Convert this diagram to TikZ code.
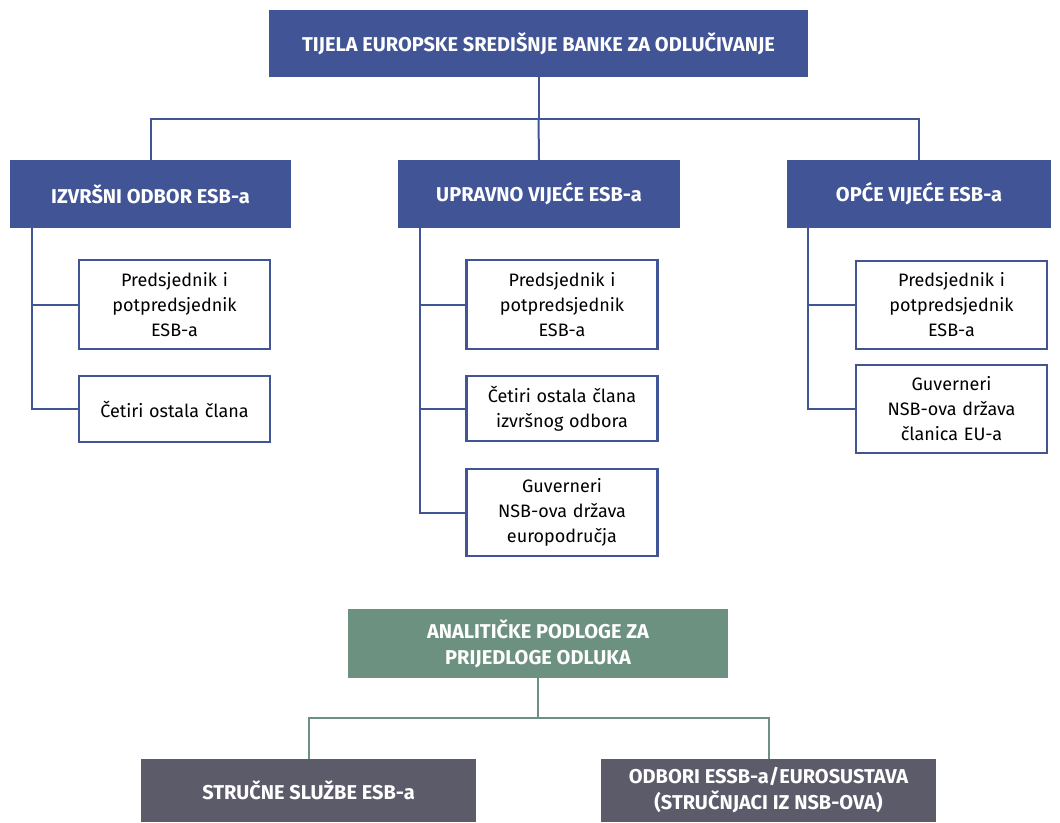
\documentclass[tikz,border=0pt]{standalone}
\usepackage{fontspec}
\setmainfont{Fira Sans}[WordSpace=1.2]
\newfontfamily\headfont{Fira Sans}
\usetikzlibrary{positioning}

\definecolor{ecbblue}{RGB}{65,84,150}
\definecolor{ecbgreen}{RGB}{108,145,128}
\definecolor{ecbgrey}{RGB}{92,91,106}

\tikzset{
    headbox/.style={fill=ecbblue, text=white, inner sep=0pt, align=center,
        font=\headfont\bfseries\fontsize{20}{26}\selectfont, minimum height=68pt},
    member/.style={draw=ecbblue, line width=2.4pt, fill=white, inner sep=0pt, align=center,
        font=\fontsize{18}{25}\selectfont, minimum width=191pt},
    link/.style={draw=ecbblue, line width=2pt},
    greenlink/.style={draw=ecbgreen, line width=2pt},
}

\begin{document}
\begin{tikzpicture}[x=1pt, y=-1pt]
    \useasboundingbox (0,0) rectangle (1060,822);

    % decision-making bodies
    \node [headbox, minimum width=539pt, minimum height=67pt] (ecb) at (538.5,43.5)
        {TIJELA EUROPSKE SREDIŠNJE BANKE ZA ODLUČIVANJE};

    \node [headbox, minimum width=281pt] (izv) at (150.5,194) {IZVRŠNI ODBOR ESB-a};
    \node [headbox, minimum width=282pt] (upr) at (539,194) {UPRAVNO VIJEĆE ESB-a};
    \node [headbox, minimum width=264pt] (opc) at (919,194) {OPĆE VIJEĆE ESB-a};

    % members
    \node [member, minimum height=89pt] (izv1) at (174.5,304.5) {Predsjednik i\\potpredsjednik\\ESB-a};
    \node [member, minimum height=66pt] (izv2) at (174.5,409) {Četiri ostala člana};

    \node [member, minimum height=89pt] (upr1) at (562,304.5) {Predsjednik i\\potpredsjednik\\ESB-a};
    \node [member, minimum height=65pt] (upr2) at (562,408.5) {Četiri ostala člana\\izvršnog odbora};
    \node [member, minimum height=87pt] (upr3) at (562,512.5) {Guverneri\\NSB-ova država\\europodručja};

    \node [member, minimum height=88pt] (opc1) at (951.5,305) {Predsjednik i\\potpredsjednik\\ESB-a};
    \node [member, minimum height=88pt] (opc2) at (951.5,409) {Guverneri\\NSB-ova država\\članica EU-a};

    % analytical support
    \node [headbox, fill=ecbgreen, minimum width=380pt, minimum height=69pt] (ana) at (538,643.5)
        {ANALITIČKE PODLOGE ZA\\PRIJEDLOGE ODLUKA};
    \node [headbox, fill=ecbgrey, minimum width=335pt, minimum height=63pt] (str) at (308.5,790.5)
        {STRUČNE SLUŽBE ESB-a};
    \node [headbox, fill=ecbgrey, minimum width=335pt, minimum height=63pt] (odb) at (768.5,790.5)
        {ODBORI ESSB-a/EUROSUSTAVA\\(STRUČNJACI IZ NSB-OVA)};

    % connectors
    \draw [link] (ecb.south) -- ++(0,42) coordinate (fork);
    \draw [link] (fork) -| (izv.north);
    \draw [link] (fork) -| (opc.north);
    \draw [link] (fork) -- (upr.north);

    \coordinate (izvs) at ([xshift=22pt]izv.south west);
    \coordinate (uprs) at ([xshift=22pt]upr.south west);
    \coordinate (opcs) at ([xshift=21pt]opc.south west);
    \draw [link] (izvs) |- (izv1.west);
    \draw [link] (izvs) |- (izv2.west);
    \draw [link] (uprs) |- (upr1.west);
    \draw [link] (uprs) |- (upr2.west);
    \draw [link] (uprs) |- (upr3.west);
    \draw [link] (opcs) |- (opc1.west);
    \draw [link] (opcs) |- (opc2.west);

    \draw [greenlink] (ana.south) -- ++(0,40) coordinate (split);
    \draw [greenlink] (split) -| (str.north);
    \draw [greenlink] (split) -| (odb.north);
\end{tikzpicture}
\end{document}
